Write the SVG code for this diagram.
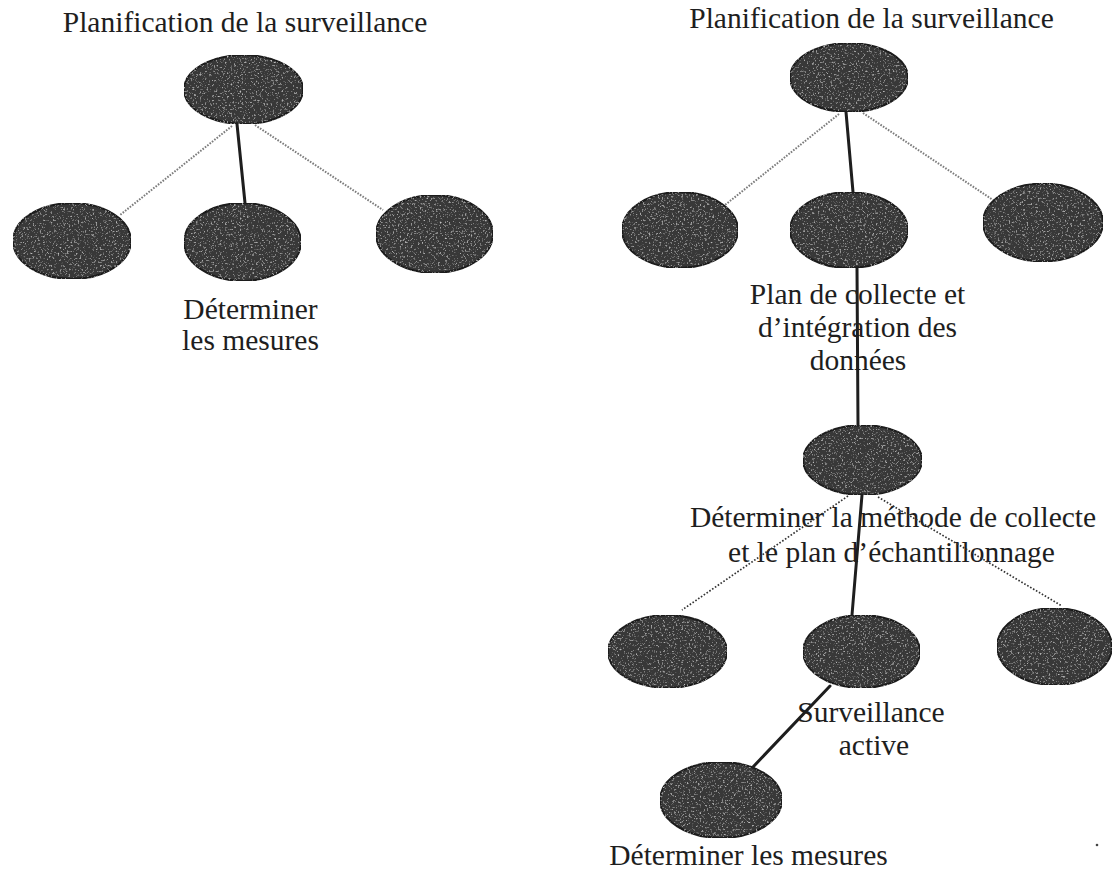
<svg xmlns="http://www.w3.org/2000/svg" width="1113" height="873" viewBox="0 0 1113 873">
  <style>
    .node { fill: #383838; stroke: #1a1a1a; stroke-width: 1.8; }
    .lbl { font-family: "Liberation Serif", "Times New Roman", serif; font-size: 29.5px; fill: #1e1e1e; text-anchor: middle; }
    .solid { stroke: #1e1e1e; stroke-width: 3; fill: none; stroke-linecap: round; }
    .dot1 { stroke: #7c7c7c; stroke-width: 2; stroke-dasharray: 1.6 1.4; fill: none; }
    .dot2 { stroke: #333333; stroke-width: 1.7; stroke-dasharray: 1.6 1.8; fill: none; }
  </style>
  <defs>
    <filter id="grain" x="0" y="0" width="100%" height="100%">
      <feTurbulence type="fractalNoise" baseFrequency="0.55" numOctaves="2" seed="7" result="n"/>
      <feColorMatrix in="n" type="matrix" values="0 0 0 0 0.55  0 0 0 0 0.55  0 0 0 0 0.55  3.2 0 0 0 -1.85" result="spk"/>
      <feComposite in="spk" in2="SourceGraphic" operator="in" result="s"/>
      <feMerge><feMergeNode in="SourceGraphic"/><feMergeNode in="s"/></feMerge>
    </filter>
  </defs>
  <rect width="1113" height="873" fill="#ffffff"/>

  <!-- Left tree -->
  <g id="L-root">
    <ellipse class="node" filter="url(#grain)" cx="243.5" cy="89.5" rx="59.5" ry="34.5"/>
    <text class="lbl" x="245" y="32">Planification de la surveillance</text>
  </g>
  <g id="L-left">
    <ellipse class="node" filter="url(#grain)" cx="72" cy="241" rx="59" ry="38"/>
  </g>
  <g id="L-mid">
    <ellipse class="node" filter="url(#grain)" cx="242.5" cy="242" rx="58.5" ry="39"/>
    <text class="lbl" x="250.5" y="319">Déterminer</text>
    <text class="lbl" x="250.5" y="350">les mesures</text>
  </g>
  <g id="L-right">
    <ellipse class="node" filter="url(#grain)" cx="434.5" cy="234" rx="58.5" ry="39"/>
  </g>

  <!-- Right tree -->
  <g id="R-root">
    <ellipse class="node" filter="url(#grain)" cx="849" cy="77.5" rx="59" ry="34.5"/>
    <text class="lbl" x="871.5" y="28">Planification de la surveillance</text>
  </g>
  <g id="R1-left">
    <ellipse class="node" filter="url(#grain)" cx="680" cy="230" rx="58" ry="38"/>
  </g>
  <g id="R1-mid">
    <ellipse class="node" filter="url(#grain)" cx="849" cy="230" rx="59" ry="38"/>
    <text class="lbl" x="857.5" y="304">Plan de collecte et</text>
    <text class="lbl" x="857.5" y="337">d’intégration des</text>
    <text class="lbl" x="858" y="370">données</text>
  </g>
  <g id="R1-right">
    <ellipse class="node" filter="url(#grain)" cx="1043" cy="222.5" rx="60" ry="39"/>
  </g>
  <g id="R2">
    <ellipse class="node" filter="url(#grain)" cx="862.5" cy="460" rx="59.5" ry="35"/>
    <text class="lbl" x="893" y="527">Déterminer la méthode de collecte</text>
    <text class="lbl" x="891.5" y="562">et le plan d’échantillonnage</text>
  </g>
  <g id="R3-left">
    <ellipse class="node" filter="url(#grain)" cx="667.5" cy="651.5" rx="59.5" ry="36.5"/>
  </g>
  <g id="R3-mid">
    <ellipse class="node" filter="url(#grain)" cx="861.5" cy="651.5" rx="58.5" ry="36.5"/>
    <text class="lbl" x="871" y="722">Surveillance</text>
    <text class="lbl" x="874" y="755">active</text>
  </g>
  <g id="R3-right">
    <ellipse class="node" filter="url(#grain)" cx="1054.5" cy="646.5" rx="57.5" ry="38.5"/>
  </g>
  <g id="R4">
    <ellipse class="node" filter="url(#grain)" cx="721" cy="800" rx="61" ry="38"/>
    <text class="lbl" x="748.5" y="865">Déterminer les mesures</text>
  </g>

  <!-- Connectors -->
  <g id="connectors">
    <line class="solid" x1="237" y1="124" x2="245" y2="203"/>
    <line class="dot1" x1="232" y1="126" x2="120" y2="215"/>
    <line class="dot1" x1="255" y1="125" x2="383" y2="210"/>

    <line class="solid" x1="846" y1="112" x2="853" y2="192"/>
    <line class="dot1" x1="839" y1="114" x2="725" y2="205"/>
    <line class="dot1" x1="863" y1="113" x2="993" y2="200"/>

    <line class="solid" x1="857" y1="268" x2="858" y2="425"/>

    <line class="solid" x1="862" y1="495" x2="852" y2="615"/>
    <line class="dot2" x1="848" y1="496" x2="682" y2="610"/>
    <line class="dot2" x1="878" y1="497" x2="1062" y2="606"/>

    <line class="solid" x1="830" y1="686" x2="753" y2="767"/>
  </g>
  <circle cx="1097" cy="845" r="1.3" fill="#444"/>
</svg>
